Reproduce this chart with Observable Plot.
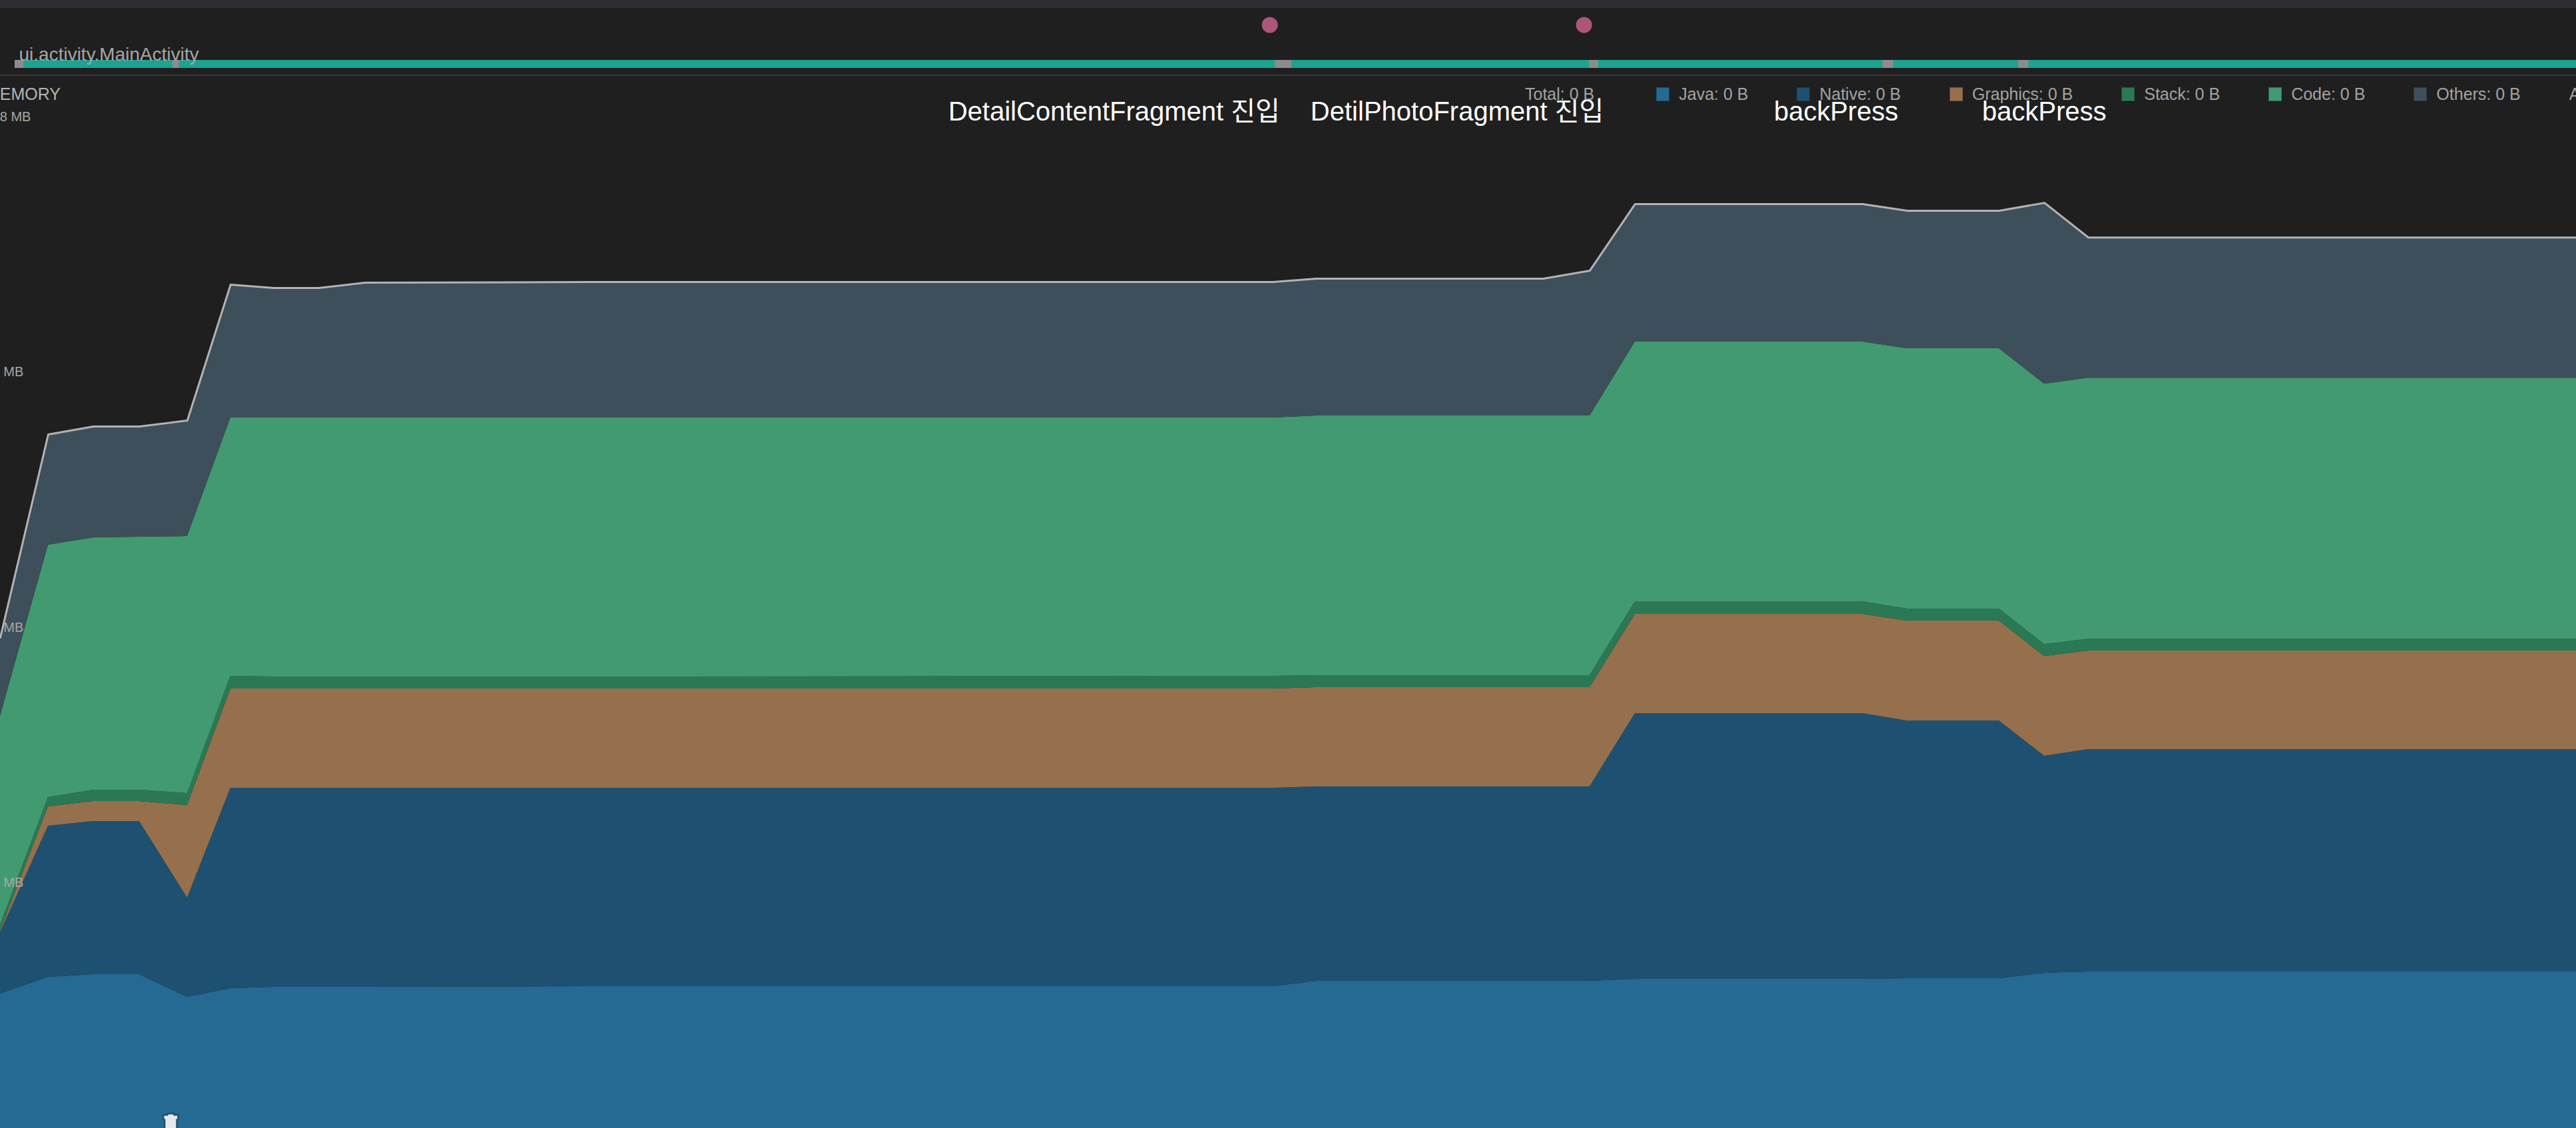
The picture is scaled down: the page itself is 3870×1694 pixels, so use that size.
<!DOCTYPE html>
<html>
<head>
<meta charset="utf-8">
<script src="https://cdn.jsdelivr.net/npm/d3@7"></script>
<script src="https://cdn.jsdelivr.net/npm/@observablehq/plot@0.6"></script>
<style>
  html, body { margin: 0; padding: 0; background: #1f1f1f; overflow: hidden; }
  #root { position: relative; width: 3870px; height: 1694px; background: #1f1f1f; font-family: "Liberation Sans", Arial, sans-serif; }
  #topbar { height: 12px; background: #2d2e31; }
  #sep { height: 2px; background: #36373a; }
  #memory { position: relative; height: 1580px; }
  #memlabel { position: absolute; left: -21px; top: 15px; font-size: 25px; line-height: 25px; color: #b4b4b4; white-space: nowrap; }
  #legend { position: absolute; left: 2291px; top: 15px; display: flex; align-items: center; font-size: 25px; line-height: 25px; color: #a3a3a3; white-space: nowrap; }
  .item { display: flex; align-items: center; margin-left: 73px; }
  .item.first { margin-left: 93px; }
  .sw { width: 20px; height: 21px; margin-right: 14px; box-sizing: border-box; border: 1.5px solid rgba(0,0,0,0.28); }
</style>
</head>
<body>
<div id="root">
  <div id="topbar"></div>
  <div id="events"></div>
  <div id="sep"></div>
  <div id="memory">
    <div id="memlabel">MEMORY</div>
    <div id="legend"></div>
  </div>
</div>
<script>
// ---- data ----
const times = [0, 0.9, 1.75, 2.6125, 3.5125, 4.325, 5.1375, 5.975, 6.85, 11.06, 23.9, 24.71, 28.975, 29.85, 30.7, 34.975, 35.8125, 37.5375, 38.3875, 39.2125, 48.375];
const javaMB     = [18.06, 20.14, 20.48, 20.48, 17.64, 18.72, 18.89, 18.89, 18.89, 18.97, 18.97, 19.64, 19.64, 19.64, 19.89, 19.89, 19.98, 19.98, 20.64, 20.81, 20.81];
const nativeMB   = [7.68, 18.95, 19.20, 19.20, 12.44, 25.13, 24.96, 24.96, 24.96, 24.88, 24.88, 24.38, 24.38, 24.38, 33.31, 33.31, 32.31, 32.31, 27.21, 27.88, 27.88];
const graphicsMB = [0.17, 2.42, 2.50, 2.50, 11.60, 12.44, 12.44, 12.44, 12.44, 12.44, 12.44, 12.44, 12.44, 12.44, 12.44, 12.44, 12.52, 12.52, 12.52, 12.35, 12.35];
const stackMB    = [0.75, 1.17, 1.42, 1.42, 1.50, 1.59, 1.50, 1.50, 1.50, 1.50, 1.59, 1.50, 1.50, 1.50, 1.59, 1.59, 1.50, 1.50, 1.50, 1.50, 1.50];
const codeMB     = [26.21, 31.64, 31.64, 31.72, 32.22, 32.39, 32.47, 32.47, 32.47, 32.47, 32.39, 32.56, 32.56, 32.56, 32.56, 32.56, 32.64, 32.64, 32.64, 32.72, 32.72];
const othersMB   = [9.85, 13.86, 13.94, 13.86, 14.53, 16.70, 16.28, 16.28, 16.95, 17.03, 17.03, 17.20, 17.20, 18.20, 17.28, 17.28, 17.28, 17.28, 22.71, 17.61, 17.61];

const layers = ["Java", "Native", "Graphics", "Stack", "Code", "Others"];
const layerColors = ["#246a92", "#1e5171", "#96704c", "#2b7855", "#429a71", "#3d4f5a"];
const legendLabels = ["Java: 0 B", "Native: 0 B", "Graphics: 0 B", "Stack: 0 B", "Code: 0 B", "Others: 0 B"];
const totalLabel = "Total: 0 B";
const allocatedLabel = "Allocated: N/A";
const yTicks = [32, 64, 96, 128];
const timeDomain = [0, 48.375];

const activityName = "ui.activity.MainActivity";
const activityStart = 0.275;
const activityEnd = 48.375;
const lifecycleStart = [0.275, 3.2375, 23.94, 24.1, 29.84, 35.35, 37.9];
const lifecycleEnd   = [0.4375, 3.3625, 24.1, 24.25, 30.01, 35.55, 38.09];
const touchTimes = [23.84, 29.74];
const gcTimes = [3.2];
const annotationTimes = [24.03, 30.11, 35.64, 39.55];
const annotationTexts = ["DetailContentFragment 진입", "DetilPhotoFragment 진입", "backPress", "backPress"];

// ---- tables built from the arrays ----
const series = [javaMB, nativeMB, graphicsMB, stackMB, codeMB, othersMB];
const long = [];
layers.forEach((layer, k) => times.forEach((t, i) => long.push({t, layer, mb: series[k][i]})));
const totals = times.map((t, i) => ({t, total: series.reduce((s, arr) => s + arr[i], 0)}));
const activities = [{name: activityName, start: activityStart, end: activityEnd, lane: "activity"}];
const lifecycle = lifecycleStart.map((s, i) => ({start: s, end: lifecycleEnd[i], lane: "activity"}));
const lifecycleEdges = lifecycle.flatMap(d => [{x: d.start, lane: "activity"}, {x: d.end, lane: "activity"}]);
const touches = touchTimes.map(t => ({t, lane: "touch"}));
const gcs = gcTimes.map(t => ({t}));
const annotations = annotationTimes.map((t, i) => ({t, label: annotationTexts[i]}));

const font = "'Liberation Sans', Arial, 'Noto Sans CJK KR', sans-serif";

// ---- event lane ----
const events = Plot.plot({
  width: 3870, height: 100,
  marginLeft: 0, marginRight: 0, marginTop: 0, marginBottom: 0,
  style: {background: "transparent", fontFamily: font, overflow: "visible"},
  x: {domain: timeDomain, range: [0, 3870], axis: null},
  y: {type: "band", domain: ["touch", "activity"], range: [19, 90], paddingInner: 0.797, paddingOuter: 0, axis: null},
  marks: [
    Plot.barX(activities, {x1: "start", x2: "end", y: "lane", fill: "#1da391"}),
    Plot.barX(lifecycle, {x1: "start", x2: "end", y: "lane", fill: "#8c8c8c"}),
    Plot.ruleX(lifecycleEdges, {x: "x", y: "lane", stroke: "#ffffff", strokeWidth: 2}),
    Plot.text(activities, {x: "start", y: "lane", text: "name", textAnchor: "start", lineAnchor: "bottom", dx: 6, dy: -6, fontSize: 28, fill: "#a6a6a6"}),
    Plot.dot(touches, {x: "t", y: "lane", r: 12, fill: "#ad5679", stroke: "none"})
  ]
});
document.getElementById("events").appendChild(events);

// ---- trash-can symbol for GC events ----
const trash = {
  draw(ctx) {
    ctx.moveTo(-5, -13); ctx.lineTo(5, -13); ctx.lineTo(5, -11); ctx.lineTo(11, -11);
    ctx.lineTo(11, -4); ctx.lineTo(9, -4); ctx.lineTo(9, 16); ctx.lineTo(-9, 16);
    ctx.lineTo(-9, -4); ctx.lineTo(-11, -4); ctx.lineTo(-11, -11); ctx.lineTo(-5, -11);
    ctx.closePath();
  }
};

// ---- memory chart ----
const memory = Plot.plot({
  width: 3870, height: 1580,
  marginLeft: 0, marginRight: 0, marginTop: 0, marginBottom: 0,
  style: {background: "transparent", fontFamily: font, overflow: "visible"},
  x: {domain: timeDomain, range: [0, 3870], axis: null},
  y: {domain: [0, 128], range: [1594.3, 61], axis: null},
  color: {domain: layers, range: layerColors},
  marks: [
    Plot.areaY(long, {x: "t", y: "mb", fill: "layer", order: layers}),
    Plot.lineY(totals, {x: "t", y: "total", stroke: "#b3b3b3", strokeWidth: 3}),
    Plot.axisY({ticks: yTicks, tickFormat: d => `${d} MB`, anchor: "left", tickSize: 0, tickPadding: 23, textAnchor: "start", fontSize: 20, fill: "#a8a8a8"}),
    Plot.text(annotations, {x: "t", text: "label", frameAnchor: "top", textAnchor: "end", lineAnchor: "bottom", dy: 66, fontSize: 40, fill: "#ffffff"}),
    Plot.dot(gcs, {x: "t", frameAnchor: "bottom", dy: -9, symbol: trash, fill: "#e6e8ec", stroke: "#1c4663", strokeWidth: 2})
  ]
});
document.getElementById("memory").appendChild(memory);

// ---- legend ----
const legend = document.getElementById("legend");
const tot = document.createElement("span");
tot.textContent = totalLabel;
legend.appendChild(tot);
layers.forEach((layer, i) => {
  const item = document.createElement("div");
  item.className = "item" + (i === 0 ? " first" : "");
  const sw = document.createElement("div");
  sw.className = "sw";
  sw.style.background = layerColors[i];
  const lab = document.createElement("span");
  lab.textContent = legendLabels[i];
  item.appendChild(sw); item.appendChild(lab);
  legend.appendChild(item);
});
const alloc = document.createElement("div");
alloc.className = "item";
alloc.textContent = allocatedLabel;
legend.appendChild(alloc);
</script>
</body>
</html>
